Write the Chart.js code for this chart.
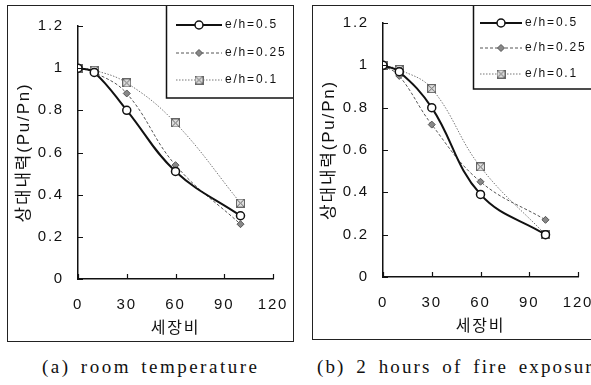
<!DOCTYPE html>
<html>
<head>
<meta charset="utf-8">
<script src="https://cdn.jsdelivr.net/npm/chart.js@4.4.1/dist/chart.umd.min.js"></script>
<style>
  html, body { margin: 0; padding: 0; background: #fff; overflow: hidden; width: 591px; height: 385px; }
  .panel { position: absolute; border: 1px solid #222; background: #fff; }
  .panel canvas { display: block; }
  .caption {
    position: absolute; top: 356px; white-space: nowrap;
    font-family: 'Liberation Serif', 'DejaVu Serif', serif; font-size: 19px; color: #111;
    letter-spacing: 2.5px; word-spacing: 3px;
  }
</style>
</head>
<body>
<div class="panel" id="panelA" style="left:7px; top:5px; width:285px; height:335px;">
  <canvas id="chartA" width="285" height="335"></canvas>
</div>
<div class="panel" id="panelB" style="left:312px; top:5px; width:285px; height:333px;">
  <canvas id="chartB" width="285" height="333"></canvas>
</div>
<div class="caption" style="left:42px;">(a) room temperature</div>
<div class="caption" style="left:317px; letter-spacing:2.1px; word-spacing:4px;">(b) 2 hours of fire exposure</div>

<script>
// данные
const xValues = [0, 10, 30, 60, 100];
const seriesLabels = ['e/h=0.5', 'e/h=0.25', 'e/h=0.1'];

const roomE05 = [1, 0.98, 0.80, 0.51, 0.30];
const roomE025 = [1, 0.98, 0.88, 0.54, 0.26];
const roomE01 = [1, 0.99, 0.93, 0.74, 0.36];

const fireE05 = [1, 0.97, 0.80, 0.39, 0.20];
const fireE025 = [1, 0.95, 0.72, 0.45, 0.27];
const fireE01 = [1, 0.98, 0.89, 0.52, 0.20];

const xTicks = [0, 30, 60, 90, 120];
const yTicks = [0, 0.2, 0.4, 0.6, 0.8, 1, 1.2];
const yTickLabels = ['0', '0.2', '0.4', '0.6', '0.8', '1', '1.2'];

const xTitle = '세장비';
const yTitle = '상대내력(Pu/Pn)';

const FONT = "'Liberation Sans', Arial, 'Noto Sans CJK KR', sans-serif";

// маркер в виде квадрата с крестом для e/h=0.1
function makeBoxMarker() {
    const c = document.createElement('canvas');
    c.width = 9;
    c.height = 9;
    const g = c.getContext('2d');
    g.fillStyle = '#ddd';
    g.fillRect(0.5, 0.5, 8, 8);
    g.strokeStyle = '#666';
    g.lineWidth = 1;
    g.strokeRect(0.5, 0.5, 8, 8);
    g.beginPath();
    g.moveTo(1, 1); g.lineTo(8, 8);
    g.moveTo(8, 1); g.lineTo(1, 8);
    g.stroke();
    return c;
}
const boxMarker = makeBoxMarker();

function buildDatasets(e05, e025, e01) {
    const toPts = arr => arr.map((v, i) => ({ x: xValues[i], y: v }));
    return [
        {
            label: seriesLabels[0],
            data: toPts(e05),
            borderColor: '#111',
            borderWidth: 2,
            pointStyle: 'circle',
            pointRadius: 4,
            pointBackgroundColor: '#fff',
            pointBorderColor: '#111',
            pointBorderWidth: 1.5,
            tension: 0.4,
            order: 0
        },
        {
            label: seriesLabels[1],
            data: toPts(e025),
            borderColor: '#555',
            borderWidth: 1,
            borderDash: [3, 2],
            pointStyle: 'rectRot',
            pointRadius: 3.5,
            pointBackgroundColor: '#888',
            pointBorderColor: '#555',
            pointBorderWidth: 1,
            tension: 0.4,
            order: 1
        },
        {
            label: seriesLabels[2],
            data: toPts(e01),
            borderColor: '#777',
            borderWidth: 1,
            borderDash: [1.5, 1.5],
            pointStyle: boxMarker,
            pointRadius: 4,
            tension: 0.4,
            order: 2
        }
    ];
}

// разрядка букв, как на скане
const spacedText = {
    id: 'spacedText',
    beforeDraw(chart) {
        chart.ctx.letterSpacing = '1.8px';
    }
};

// внутренние засечки на осях
const innerTicks = {
    id: 'innerTicks',
    afterDraw(chart) {
        const ctx = chart.ctx;
        const area = chart.chartArea;
        const xs = chart.scales.x;
        const ys = chart.scales.y;
        ctx.save();
        ctx.strokeStyle = '#111';
        ctx.lineWidth = 1.2;
        ctx.beginPath();
        yTicks.forEach(v => {
            const py = Math.round(ys.getPixelForValue(v)) + 0.5;
            ctx.moveTo(area.left, py);
            ctx.lineTo(area.left + 5, py);
        });
        xTicks.forEach(v => {
            const px = Math.round(xs.getPixelForValue(v)) + 0.5;
            ctx.moveTo(px, area.bottom);
            ctx.lineTo(px, area.bottom - 5);
        });
        ctx.stroke();
        ctx.restore();
    }
};

// легенда в рамке в правом верхнем углу
const boxLegend = {
    id: 'boxLegend',
    afterDraw(chart, args, opts) {
        const ctx = chart.ctx;
        ctx.save();
        ctx.fillStyle = '#fff';
        ctx.fillRect(opts.x, 0, chart.width - opts.x, opts.h);
        ctx.strokeStyle = '#111';
        ctx.lineWidth = 1.5;
        ctx.strokeRect(opts.x + 0.5, -2, chart.width - opts.x + 4, opts.h + 2);

        chart.data.datasets.forEach((ds, i) => {
            const y = opts.rows[i];
            ctx.strokeStyle = ds.borderColor;
            ctx.lineWidth = ds.borderWidth;
            ctx.setLineDash(ds.borderDash || []);
            ctx.beginPath();
            ctx.moveTo(opts.lineX0, y);
            ctx.lineTo(opts.lineX1, y);
            ctx.stroke();
            ctx.setLineDash([]);
            ctx.fillStyle = ds.pointBackgroundColor || '#fff';
            ctx.strokeStyle = ds.pointBorderColor || ds.borderColor;
            ctx.lineWidth = ds.pointBorderWidth || 1;
            Chart.helpers.drawPoint(ctx, {
                pointStyle: ds.pointStyle,
                radius: ds.pointRadius,
                rotation: 0,
                borderWidth: ds.pointBorderWidth || 1
            }, (opts.lineX0 + opts.lineX1) / 2, y);

            ctx.fillStyle = '#111';
            ctx.font = '12px ' + FONT;
            ctx.letterSpacing = '1.8px';
            ctx.textBaseline = 'middle';
            ctx.textAlign = 'left';
            ctx.fillText(ds.label, opts.textX, y);
        });
        ctx.restore();
    }
};

function createPanel(canvasId, datasets, padTop, legendOpts) {
    const ctx = document.getElementById(canvasId).getContext('2d');
    return new Chart(ctx, {
        type: 'line',
        data: { datasets: datasets },
        plugins: [spacedText, innerTicks, boxLegend],
        options: {
            responsive: false,
            animation: false,
            layout: {
                padding: { top: padTop, right: 20, left: 0, bottom: 0 }
            },
            scales: {
                x: {
                    type: 'linear',
                    min: 0,
                    max: 120,
                    afterBuildTicks: scale => { scale.ticks = xTicks.map(v => ({ value: v })); },
                    afterFit: scale => {
                        scale.height = 62;
                        scale.paddingLeft = 0;
                        scale.paddingRight = 0;
                    },
                    grid: { display: true, drawOnChartArea: false, drawTicks: false, tickLength: 0 },
                    border: { display: true, color: '#111', width: 1.5 },
                    ticks: {
                        padding: 17,
                        maxRotation: 0,
                        color: '#111',
                        font: { size: 15, family: FONT }
                    },
                    title: {
                        display: true,
                        text: xTitle,
                        color: '#111',
                        padding: { top: 0, bottom: 3 },
                        font: { size: 16, family: FONT }
                    }
                },
                y: {
                    min: 0,
                    max: 1.2,
                    afterBuildTicks: scale => { scale.ticks = yTicks.map(v => ({ value: v })); },
                    afterFit: scale => {
                        scale.width = 70;
                        scale.paddingTop = 0;
                        scale.paddingBottom = 0;
                    },
                    grid: { display: true, drawOnChartArea: false, drawTicks: false, tickLength: 0 },
                    border: { display: true, color: '#111', width: 1.5 },
                    ticks: {
                        padding: 14,
                        color: '#111',
                        font: { size: 15, family: FONT },
                        callback: function (value) {
                            const idx = yTicks.indexOf(value);
                            return idx >= 0 ? yTickLabels[idx] : '';
                        }
                    },
                    title: {
                        display: true,
                        text: yTitle,
                        color: '#111',
                        padding: { top: 6, bottom: 0 },
                        font: { size: 17, family: FONT }
                    }
                }
            },
            plugins: {
                legend: { display: false },
                tooltip: { enabled: false },
                boxLegend: legendOpts
            }
        }
    });
}

document.addEventListener('DOMContentLoaded', function () {
    createPanel('chartA', buildDatasets(roomE05, roomE025, roomE01), 20,
        { x: 158, h: 92, rows: [19, 47, 74], lineX0: 168, lineX1: 214, textX: 217 });
    createPanel('chartB', buildDatasets(fireE05, fireE025, fireE01), 17,
        { x: 160, h: 83, rows: [17, 42, 68], lineX0: 167, lineX1: 209, textX: 212 });
});
</script>
</body>
</html>
